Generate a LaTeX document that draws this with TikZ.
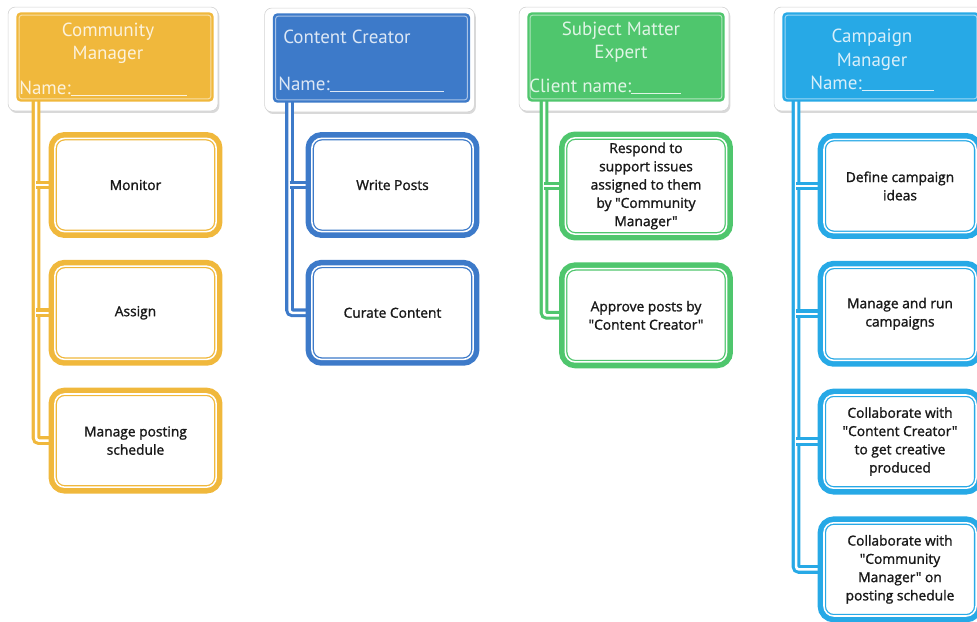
\documentclass[tikz,border=0pt]{standalone}
\usepackage{fontspec}
\setmainfont{PT Sans}
\newfontfamily\taskfont{Open Sans}[FakeBold=1.4]
\usetikzlibrary{positioning,shadows,backgrounds}

\definecolor{cmyel}{HTML}{F0B83C}
\definecolor{ccblue}{HTML}{3D7AC9}
\definecolor{smegreen}{HTML}{4FC66D}
\definecolor{campcyan}{HTML}{27A9E6}

\tikzset{
  head/.style={fill=#1, rounded corners=3pt, minimum width=4.93cm, minimum height=2.23cm},
  plate/.style={fill=white, draw=gray!35, line width=.4pt, rounded corners=5pt,
    drop shadow={shadow xshift=1pt, shadow yshift=-1.5pt, opacity=.3}},
  title/.style={text=white!82!#1, font=\fontsize{13.5}{16.4}\selectfont, inner sep=0pt},
  task/.style={fill=white, rounded corners=7pt, minimum width=4.03cm, minimum height=2.33cm,
    preaction={draw=#1, line width=9pt},
    postaction={draw=#1, line width=.9pt, double=white, double distance=1.1pt},
    align=center, text=black!90, font=\taskfont\fontsize{9.8}{13}\selectfont},
  link/.style={draw=#1, line width=2.2pt, double=white, double distance=1.8pt, rounded corners=2pt}
}

\begin{document}
\begin{tikzpicture}[x=0.025cm, y=-0.025cm]
\useasboundingbox (0,0) rectangle (977,622);

% role headers
\node[head=cmyel] (cm) at (115,57) {};
\node[head=ccblue] (cc) at (371.5,58) {};
\node[head=smegreen] (sme) at (626,57) {};
\node[head=campcyan] (camp) at (881,57) {};

\foreach \n/\c in {cm/cmyel,cc/ccblue,sme/smegreen,camp/campcyan}
  \draw[draw=white!55!\c, line width=.7pt, rounded corners=2pt]
    ([shift={(3,-3)}]\n.south west) rectangle ([shift={(-3,3)}]\n.north east);

\node[title=cmyel, align=center] (cmtitle) at (108,43.5) {Community\\Manager};
\node[title=cmyel, anchor=west] (cmname) at (19,88) {Name:\rule[-1pt]{2.9cm}{.6pt}};
\node[title=ccblue, anchor=west] (cctitle) at (283,37) {Content Creator};
\node[title=ccblue, anchor=west] (ccname) at (278,84) {Name:\rule[-1pt]{2.85cm}{.6pt}};
\node[title=smegreen, align=center] (smetitle) at (621,42) {Subject Matter\\Expert};
\node[title=smegreen, anchor=west] (smename) at (529,86) {Client name:\rule[-1pt]{1.25cm}{.6pt}};
\node[title=campcyan, align=center] (camptitle) at (872,60) {Campaign\\Manager\\Name:\rule[-1pt]{1.8cm}{.6pt}};

% tasks per role
\node[task=cmyel] (cm1) at (135.5,185) {Monitor};
\node[task=cmyel, below=0.85cm of cm1] (cm2) {Assign};
\node[task=cmyel, below=0.85cm of cm2] (cm3) {Manage posting\\schedule};

\node[task=ccblue] (cc1) at (392.5,185) {Write Posts};
\node[task=ccblue, below=0.85cm of cc1] (cc2) {Curate Content};

\node[task=smegreen] (sme1) at (646,186) {Respond to\\support issues\\assigned to them\\by "Community\\Manager"};
\node[task=smegreen, below=0.85cm of sme1] (sme2) {Approve posts by\\"Content Creator"};

\node[task=campcyan, minimum width=3.8cm] (camp1) at (900,186) {Define campaign\\ideas};
\node[task=campcyan, minimum width=3.8cm, below=0.85cm of camp1] (camp2) {Manage and run\\campaigns};
\node[task=campcyan, minimum width=3.8cm, below=0.85cm of camp2] (camp3) {Collaborate with\\"Content Creator"\\to get creative\\produced};
\node[task=campcyan, minimum width=3.8cm, below=0.85cm of camp3] (camp4) {Collaborate with\\"Community\\Manager" on\\posting schedule};

% plates and connectors go behind
\begin{scope}[on background layer]
\foreach \n in {cm,cc,sme,camp}
  \fill[plate] ([shift={(-8,9)}]\n.south west) rectangle ([shift={(4,-5)}]\n.north east);

\coordinate (cmtop) at ([shift={(20,-4)}]cm.south west);
\coordinate (cctop) at ([shift={(17,-4)}]cc.south west);
\coordinate (smetop) at ([shift={(17,-4)}]sme.south west);
\coordinate (camptop) at ([shift={(14,-4)}]camp.south west);

\draw[link=cmyel] (cmtop) |- (cm3.west);
\foreach \t in {cm1,cm2}
  \draw[link=cmyel] (cmtop |- \t.west) -- (\t.west);
\draw[link=ccblue] (cctop) |- (cc2.west);
\draw[link=ccblue] (cctop |- cc1.west) -- (cc1.west);
\draw[link=smegreen] (smetop) |- (sme2.west);
\draw[link=smegreen] (smetop |- sme1.west) -- (sme1.west);
\draw[link=campcyan] (camptop) |- (camp4.west);
\foreach \t in {camp1,camp2,camp3}
  \draw[link=campcyan] (camptop |- \t.west) -- (\t.west);
\end{scope}
\end{tikzpicture}
\end{document}
